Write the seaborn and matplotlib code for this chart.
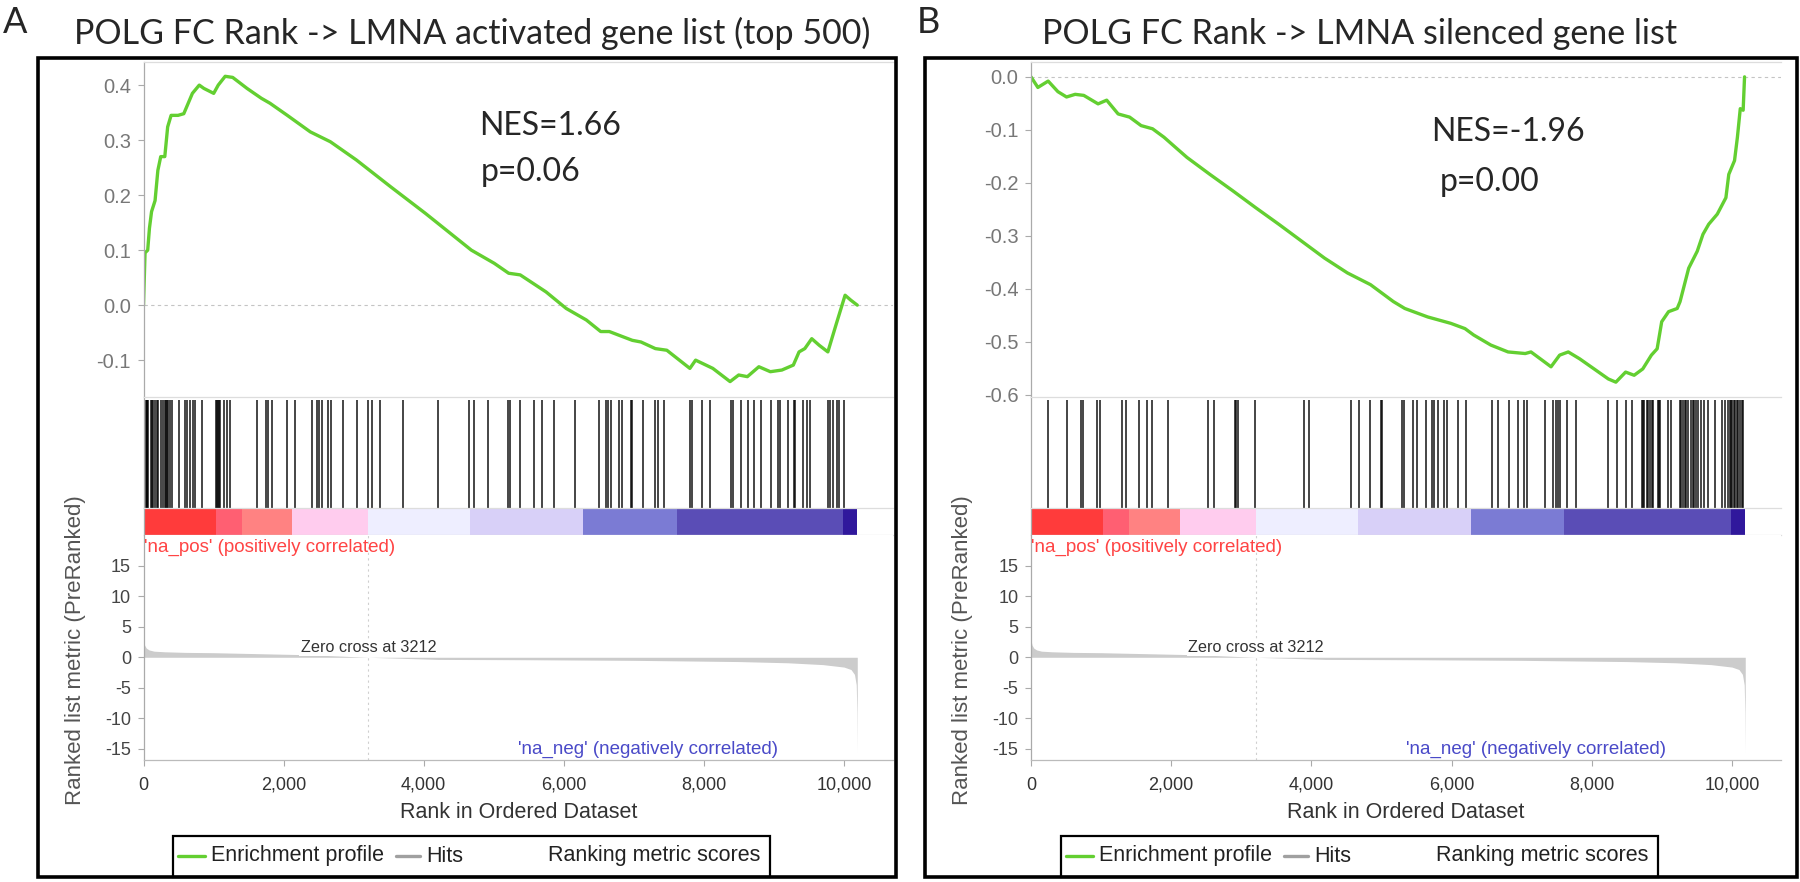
import numpy as np
import matplotlib
matplotlib.use('Agg')
import matplotlib.pyplot as plt
import seaborn as sns
from matplotlib.patches import Rectangle
from matplotlib.lines import Line2D

# values
zero_cross = 3212

es_a_rank = [0, 22, 60, 85, 115, 165, 205, 246, 304, 345, 394, 493, 575, 698, 796, 862, 1002, 1067, 1166, 1273,
             1478, 1683, 1806, 2053, 2381, 2668, 3038, 3530, 4023, 4680, 5008, 5213, 5378, 5747, 6034, 6322, 6527,
             6650, 6855, 6979, 7102, 7307, 7471, 7800, 7882, 8128, 8374, 8497, 8621, 8785, 8949, 9113, 9277, 9359,
             9441, 9540, 9647, 9770, 9893, 10016, 10098, 10190]
es_a_val = [0.0, 0.095, 0.10, 0.14, 0.17, 0.19, 0.245, 0.27, 0.27, 0.324, 0.345, 0.345, 0.348, 0.385, 0.40, 0.394,
            0.385, 0.40, 0.416, 0.414, 0.394, 0.376, 0.367, 0.345, 0.315, 0.297, 0.264, 0.215, 0.167, 0.10, 0.076,
            0.058, 0.055, 0.024, -0.006, -0.027, -0.048, -0.048, -0.058, -0.064, -0.067, -0.079, -0.082, -0.115,
            -0.10, -0.115, -0.139, -0.127, -0.13, -0.112, -0.121, -0.118, -0.109, -0.085, -0.079, -0.061, -0.073,
            -0.085, -0.033, 0.018, 0.009, 0.0]
hits_a = [30, 45, 55, 69, 102, 120, 140, 160, 188, 212, 250, 283, 300, 321, 340, 354, 380, 412, 511, 592, 626, 664,
          702, 735, 835, 1035, 1050, 1064, 1078, 1092, 1149, 1187, 1235, 1616, 1749, 1782, 1830, 2044, 2163, 2401,
          2473, 2510, 2544, 2639, 2672, 2853, 3043, 3210, 3255, 3383, 3708, 4207, 4650, 4716, 4921, 5199, 5232,
          5375, 5580, 5694, 5865, 6160, 6503, 6603, 6636, 6669, 6788, 6826, 6960, 6980, 7126, 7302, 7350, 7435,
          7800, 7830, 7969, 8087, 8390, 8410, 8530, 8625, 8720, 8811, 8958, 9054, 9087, 9197, 9280, 9305, 9420,
          9468, 9515, 9768, 9801, 9848, 9896, 9929, 10005]

es_b_rank = [0, 98, 245, 384, 507, 630, 753, 957, 1080, 1243, 1407, 1571, 1734, 1898, 2061, 2225, 2552, 2879, 3207,
             3534, 3861, 4188, 4515, 4843, 5170, 5333, 5660, 5988, 6192, 6315, 6560, 6806, 7051, 7133, 7297, 7419,
             7542, 7665, 7828, 8033, 8237, 8344, 8483, 8605, 8728, 8851, 8933, 8998, 9096, 9219, 9260, 9383, 9505,
             9587, 9669, 9791, 9914, 9955, 10037, 10078, 10119, 10160, 10180]
es_b_val = [0.0, -0.02, -0.008, -0.028, -0.038, -0.033, -0.035, -0.051, -0.044, -0.07, -0.076, -0.092, -0.098,
            -0.114, -0.133, -0.152, -0.184, -0.215, -0.247, -0.278, -0.31, -0.342, -0.37, -0.392, -0.424, -0.437,
            -0.453, -0.465, -0.475, -0.487, -0.506, -0.519, -0.522, -0.519, -0.535, -0.547, -0.525, -0.519, -0.532,
            -0.551, -0.57, -0.576, -0.557, -0.563, -0.551, -0.525, -0.513, -0.462, -0.443, -0.437, -0.424, -0.361,
            -0.329, -0.297, -0.278, -0.259, -0.228, -0.184, -0.158, -0.114, -0.06, -0.063, 0.0]
hits_b = [243, 518, 720, 738, 946, 980, 1298, 1360, 1541, 1660, 1726, 1955, 2525, 2611, 2905, 2925, 2953, 3200,
          3895, 3966, 4561, 4680, 4832, 4990, 5005, 5298, 5326, 5455, 5502, 5631, 5716, 5754, 5802, 5897, 5930,
          6087, 6201, 6582, 6658, 6820, 6953, 7038, 7072, 7333, 7452, 7486, 7523, 7547, 7642, 7771, 8227, 8356,
          8484, 8570, 8712, 8725, 8750, 8784, 8800, 8831, 8860, 8879, 8941, 8955, 8974, 9093, 9131, 9259, 9280,
          9297, 9331, 9350, 9369, 9416, 9440, 9464, 9490, 9511, 9559, 9606, 9663, 9759, 9854, 9901, 9939, 9973,
          9990, 10006, 10025, 10044, 10070, 10091, 10120, 10140, 10163]

metric_rank = [0, 15, 40, 80, 150, 300, 600, 1000, 1600, 2400, 3212, 4200, 5500, 7000, 8500, 9200, 9700, 10000,
               10100, 10150, 10175, 10185, 10190]
metric_val = [2.8, 2.0, 1.5, 1.2, 1.0, 0.9, 0.8, 0.75, 0.6, 0.4, 0.0, -0.35, -0.4, -0.5, -0.7, -0.9, -1.2, -1.6,
              -2.0, -2.8, -4.5, -9.0, -15.5]

bar_edges = [0, 1030, 1400, 2125, 3205, 4660, 6280, 7610, 9985, 10190]
bar_colors = ['#ff3b3b', '#ff5f72', '#ff8282', '#ffccee', '#eeeeff', '#d8d0f8', '#7b7bd4', '#5a4db6', '#30189c']

x_ticks = [0, 2000, 4000, 6000, 8000, 10000]
x_tick_labels = ['0', '2,000', '4,000', '6,000', '8,000', '10,000']
metric_ticks = [-15, -10, -5, 0, 5, 10, 15]
es_a_ticks = [-0.1, 0.0, 0.1, 0.2, 0.3, 0.4]
es_b_ticks = [-0.6, -0.5, -0.4, -0.3, -0.2, -0.1, 0.0]

titles = ['POLG FC Rank -> LMNA activated gene list (top 500)', 'POLG FC Rank -> LMNA silenced gene list']
nes_labels = ['NES=1.66', 'NES=-1.96']
p_labels = ['p=0.06', 'p=0.00']

GREEN = '#63cf31'
W, H = 1800, 882
XMAX = 10700

sns.set_theme(style='white')
plt.rcParams['font.family'] = ['Liberation Sans', 'DejaVu Sans']
plt.rcParams['axes.unicode_minus'] = False

fig = plt.figure(figsize=(W / 100, H / 100), dpi=100)


def rect(x0, y0, x1, y1):
    # pixel box (top-left origin) -> figure fraction
    return [x0 / W, 1 - y1 / H, (x1 - x0) / W, (y1 - y0) / H]


def fy(y):
    return 1 - y / H


def draw_panel(xl, xr, es_rank, es_val, hits, es_ylim, es_ticks):
    ax_es = fig.add_axes(rect(xl, 62, xr, 397))
    ax_hits = fig.add_axes(rect(xl, 397, xr, 508))
    ax_bar = fig.add_axes(rect(xl, 508, xr, 535))
    ax_m = fig.add_axes(rect(xl, 535, xr, 760))

    for ax in (ax_es, ax_hits, ax_bar, ax_m):
        ax.set_xlim(0, XMAX)
        ax.spines['right'].set_visible(False)
        ax.spines['left'].set_color('#aaaaaa')
        ax.spines['top'].set_color('#dddddd')
        ax.spines['bottom'].set_color('#dddddd')
        for s in ax.spines.values():
            s.set_linewidth(0.9)
        ax.set_xticks([])
        ax.set_yticks([])

    # enrichment profile
    sns.lineplot(x=es_rank, y=es_val, ax=ax_es, color=GREEN, lw=2.4, estimator=None, sort=False)
    ax_es.axhline(0, color='#c4c4c4', ls=(0, (3, 3)), lw=0.8, zorder=0)
    ax_es.set_ylim(*es_ylim)
    ax_es.set_yticks(es_ticks)
    ax_es.set_yticklabels([f'{t:.1f}' for t in es_ticks])
    ax_es.tick_params(axis='y', left=True, length=4, width=0.8, color='#aaaaaa',
                      labelcolor='#777777', labelsize=14.5, pad=5)
    ax_es.set_ylabel('Enrichment score (ES)', fontsize=20, color='#555555')
    ax_es.yaxis.set_label_coords(-0.093, 0.49)
    ax_es.spines['bottom'].set_visible(False)

    # hits
    sns.rugplot(x=hits, ax=ax_hits, height=0.97, color='black', linewidth=1.2, alpha=0.85,
                expand_margins=False)
    ax_hits.set_ylim(0, 1)
    ax_hits.spines['top'].set_color('#dddddd')
    ax_hits.spines['bottom'].set_visible(False)

    # ranking colour bar
    ax_bar.bar(bar_edges[:-1], height=1, width=np.diff(bar_edges), align='edge',
               color=bar_colors, linewidth=0)
    ax_bar.set_ylim(0, 1)

    # ranked list metric
    ax_m.fill_between(metric_rank, 0, metric_val, color='#cccccc', lw=0)
    ax_m.axvline(zero_cross, color='#cfcfcf', ls=(0, (2, 3)), lw=0.8, zorder=0)
    ax_m.set_ylim(-16.8, 20.0)
    ax_m.spines['top'].set_visible(False)
    ax_m.spines['bottom'].set_color('#bbbbbb')
    ax_m.set_yticks(metric_ticks)
    ax_m.set_yticklabels([str(t) for t in metric_ticks])
    ax_m.set_xticks(x_ticks)
    ax_m.set_xticklabels(x_tick_labels)
    ax_m.tick_params(axis='y', left=True, length=4, width=0.8, color='#aaaaaa',
                     labelcolor='#444444', labelsize=13, pad=5)
    ax_m.tick_params(axis='x', bottom=True, length=4, width=0.8, color='#aaaaaa',
                     labelcolor='#333333', labelsize=13, pad=8)
    ax_m.set_xlabel('Rank in Ordered Dataset', fontsize=15.5, color='#333333', labelpad=6)
    ax_m.set_ylabel('Ranked list metric (PreRanked)', fontsize=16, color='#555555')
    ax_m.yaxis.set_label_coords(-0.077, 0.49)
    ax_m.text(zero_cross, 1.6, f'Zero cross at {zero_cross}', ha='center', va='center', fontsize=11.7,
              color='#333333', bbox=dict(fc='white', ec='none', pad=1))
    ax_m.text(0.0, 1 - 12 / 225, "'na_pos' (positively correlated)", transform=ax_m.transAxes,
              ha='left', va='center', fontsize=13.5, color='#ff4444')
    ax_m.text(9060, -15.1, "'na_neg' (negatively correlated)", ha='right', va='center',
              fontsize=13.5, color='#4a4ac8')
    return ax_es


def draw_box(x0, y0, x1, y1, lw):
    fig.add_artist(Rectangle((x0 / W, fy(y1)), (x1 - x0) / W, (y1 - y0) / H, transform=fig.transFigure,
                             fill=False, ec='black', lw=lw))


def draw_legend(x0):
    yc = fy(856)
    draw_box(x0, 836, x0 + 597, 877, 1.6)
    fig.add_artist(Line2D([(x0 + 5) / W, (x0 + 32) / W], [yc, yc], transform=fig.transFigure,
                          color=GREEN, lw=2.4))
    fig.text((x0 + 38) / W, yc, 'Enrichment profile', va='center', fontsize=15.5, color='#222222')
    fig.add_artist(Line2D([(x0 + 223) / W, (x0 + 247) / W], [yc, yc], transform=fig.transFigure,
                          color='#a0a0a0', lw=2.4))
    fig.text((x0 + 253) / W, yc, 'Hits', va='center', fontsize=15.5, color='#222222')
    fig.text((x0 + 375) / W, yc, 'Ranking metric scores', va='center', fontsize=15.5, color='#222222')


# panel A
draw_panel(143.5, 893, es_a_rank, es_a_val, hits_a, (-0.167, 0.442), es_a_ticks)
draw_box(38, 58, 896, 877, 2.6)
draw_legend(173)
fig.text(3 / W, fy(33), 'A', fontsize=26, family='Lato', va='baseline')
fig.text(472 / W, fy(44), titles[0], fontsize=24.5, family='Lato', ha='center', va='baseline')
fig.text(479 / W, fy(135), nes_labels[0], fontsize=23, family='Lato', va='baseline')
fig.text(481 / W, fy(181), p_labels[0], fontsize=23, family='Lato', va='baseline')

# panel B
draw_panel(1031, 1781, es_b_rank, es_b_val, hits_b, (-0.604, 0.028), es_b_ticks)
draw_box(925, 58, 1797, 877, 2.6)
draw_legend(1061)
fig.text(917 / W, fy(33), 'B', fontsize=26, family='Lato', va='baseline')
fig.text(1360 / W, fy(44), titles[1], fontsize=24.5, family='Lato', ha='center', va='baseline')
fig.text(1431 / W, fy(141), nes_labels[1], fontsize=23, family='Lato', va='baseline')
fig.text(1440 / W, fy(191), p_labels[1], fontsize=23, family='Lato', va='baseline')

fig.savefig('out.png', dpi=100)
